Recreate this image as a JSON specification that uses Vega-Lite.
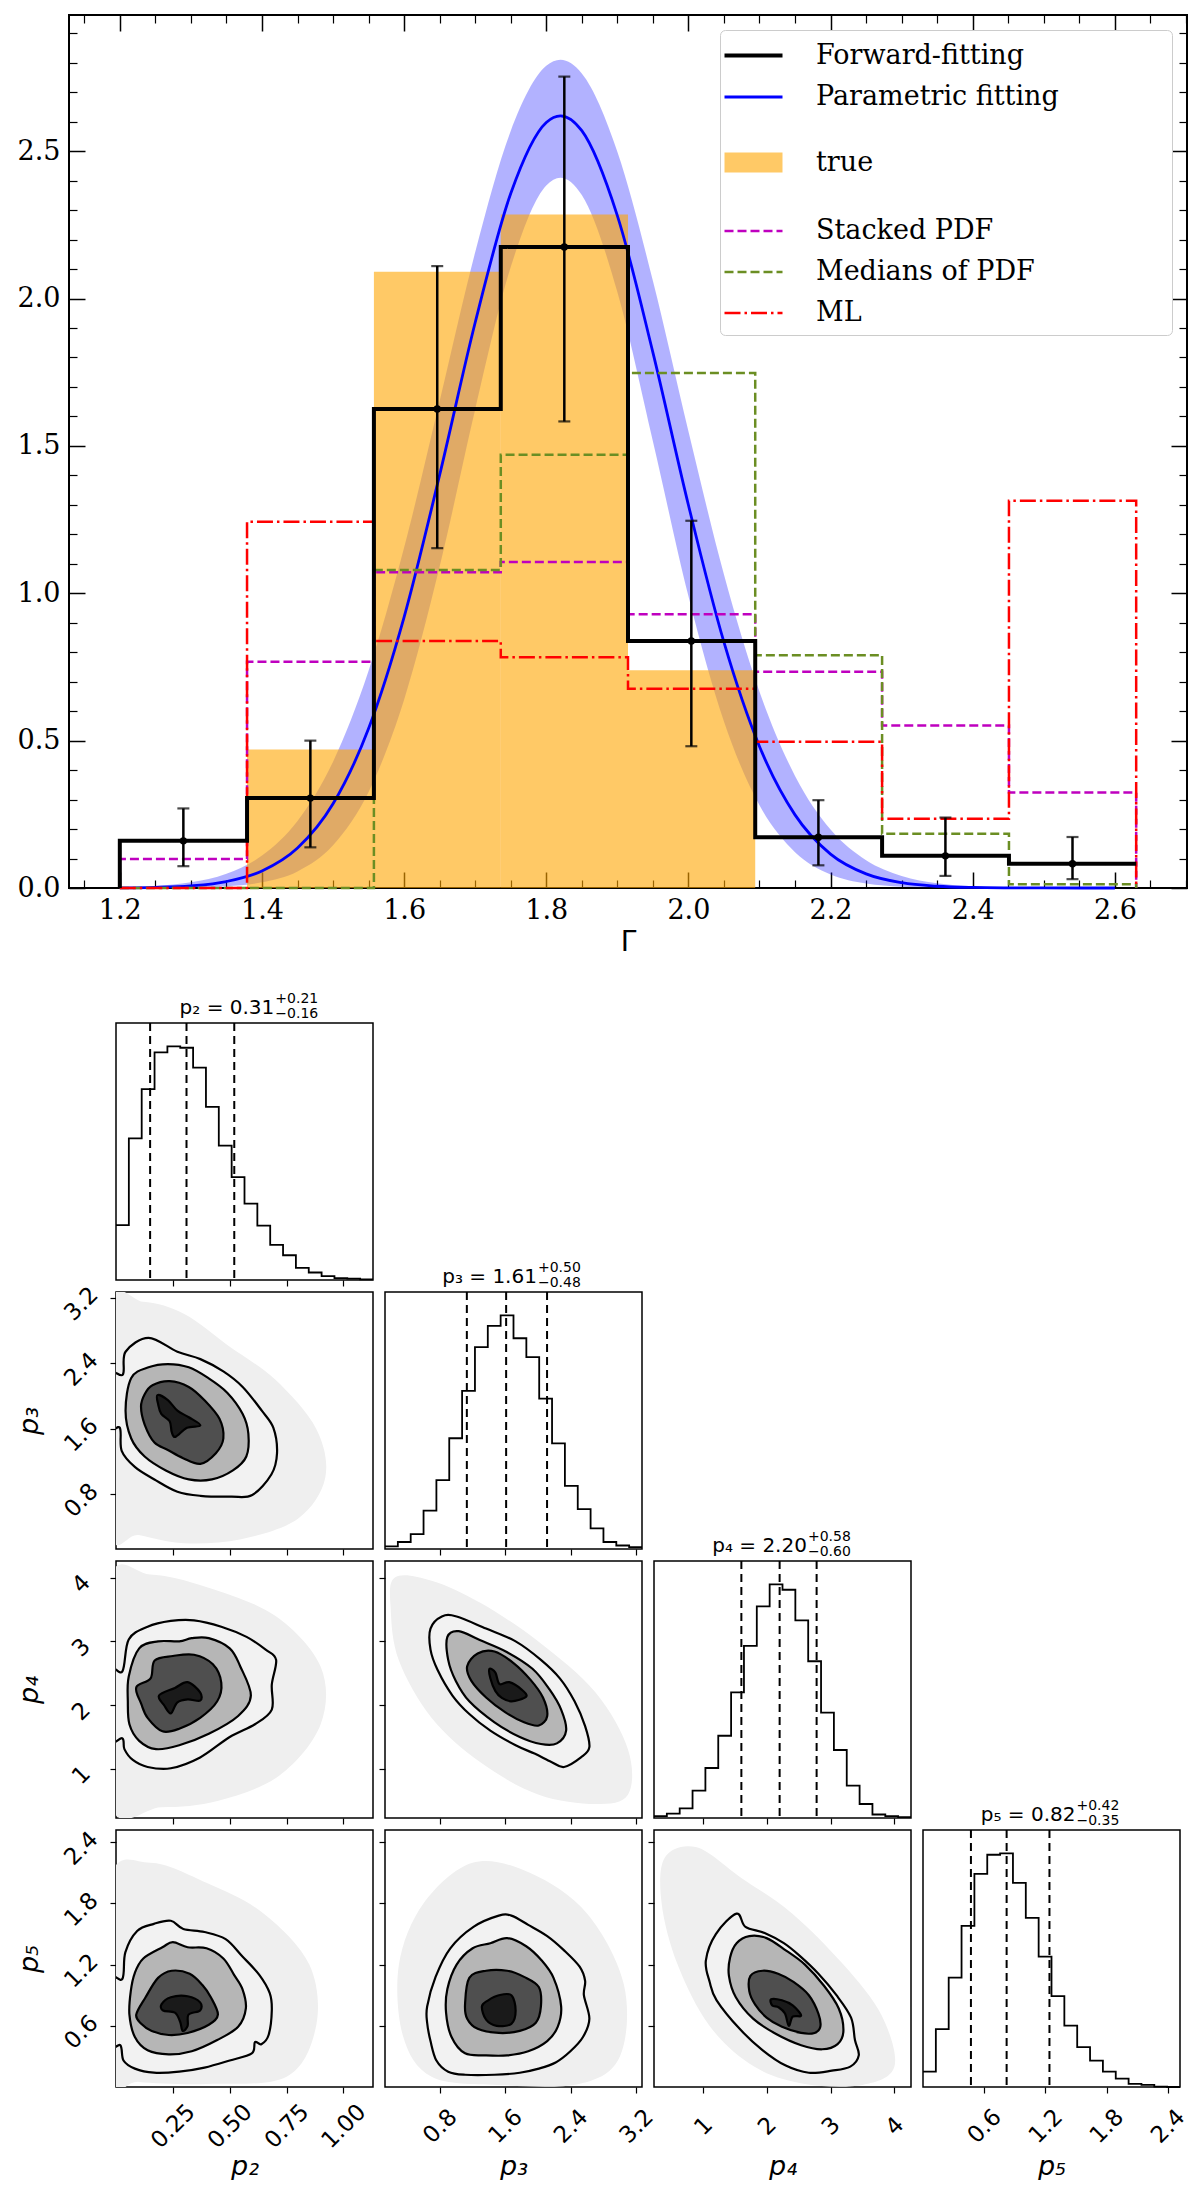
{
  "$schema": "https://vega.github.io/schema/vega-lite/v6.json",
  "background": "white",
  "padding": {"left": 14, "top": 13, "right": 5, "bottom": 0},
  "spacing": 34,
  "resolve": {
    "scale": {"strokeDash": "independent", "color": "independent", "strokeWidth": "independent"},
    "legend": {"strokeDash": "independent", "color": "independent", "strokeWidth": "independent"}
  },
  "config": {
    "view": {"stroke": "black", "strokeWidth": 1.5},
    "axis": {
      "grid": false, "domain": false, "tickColor": "black", "tickWidth": 1.2, "tickSize": 6,
      "labelFont": "DejaVu Sans", "labelFontSize": 23, "labelColor": "black",
      "labelAngle": -45, "labelAlign": "center", "labelBaseline": "middle",
      "labelOverlap": false, "labelFlush": false,
      "titleFont": "DejaVu Sans", "titleFontSize": 27, "titleFontWeight": "normal",
      "titleFontStyle": "italic", "titleColor": "black"
    },
    "axisX": {"labelPadding": 33, "titlePadding": 4, "minExtent": 62, "maxExtent": 62},
    "axisY": {"labelPadding": 29, "labelOffset": 6, "titlePadding": 16, "minExtent": 57, "maxExtent": 57},
    "legend": {
      "orient": "top-right", "offset": 15, "titleOrient": "right", "titleOpacity": 0,
      "titleFont": "DejaVu Sans Mono", "titleFontSize": 20, "titlePadding": 55,
      "labelFont": "DejaVu Serif", "labelFontSize": 27, "labelColor": "black", "labelLimit": 500, "labelOffset": 38,
      "symbolSize": 841, "symbolType": "M-2,0H2", "rowPadding": 12, "padding": 9,
      "fillColor": "white", "strokeColor": "#cccccc", "cornerRadius": 5
    }
  },
  "datasets": {
    "curve": [
      {"g": 1.2, "m": 0.0006, "lo": 0.0001, "hi": 0.0024},
      {"g": 1.25, "m": 0.0023, "lo": 0.0003, "hi": 0.0072},
      {"g": 1.3, "m": 0.0075, "lo": 0.0014, "hi": 0.0196},
      {"g": 1.35, "m": 0.022, "lo": 0.0056, "hi": 0.0486},
      {"g": 1.4, "m": 0.0576, "lo": 0.0191, "hi": 0.11},
      {"g": 1.45, "m": 0.1355, "lo": 0.0563, "hi": 0.2274},
      {"g": 1.5, "m": 0.2856, "lo": 0.1452, "hi": 0.4285},
      {"g": 1.55, "m": 0.5411, "lo": 0.3261, "hi": 0.7368},
      {"g": 1.6, "m": 0.9194, "lo": 0.6389, "hi": 1.1552},
      {"g": 1.65, "m": 1.4017, "lo": 1.0905, "hi": 1.6526},
      {"g": 1.7, "m": 1.9186, "lo": 1.6234, "hi": 2.157},
      {"g": 1.75, "m": 2.3564, "lo": 2.1068, "hi": 2.5681},
      {"g": 1.8, "m": 2.5974, "lo": 2.3837, "hi": 2.7894},
      {"g": 1.82, "m": 2.62, "lo": 2.41, "hi": 2.81},
      {"g": 1.85, "m": 2.5694, "lo": 2.3512, "hi": 2.7639},
      {"g": 1.9, "m": 2.2812, "lo": 2.022, "hi": 2.4984},
      {"g": 1.95, "m": 1.8175, "lo": 1.5159, "hi": 2.0603},
      {"g": 2.0, "m": 1.2995, "lo": 0.9908, "hi": 1.55},
      {"g": 2.05, "m": 0.8339, "lo": 0.5647, "hi": 1.0636},
      {"g": 2.1, "m": 0.4802, "lo": 0.2805, "hi": 0.666},
      {"g": 2.15, "m": 0.2481, "lo": 0.1215, "hi": 0.3803},
      {"g": 2.2, "m": 0.115, "lo": 0.0458, "hi": 0.1981},
      {"g": 2.25, "m": 0.0479, "lo": 0.0151, "hi": 0.0942},
      {"g": 2.3, "m": 0.0179, "lo": 0.0043, "hi": 0.0408},
      {"g": 2.35, "m": 0.006, "lo": 0.0011, "hi": 0.0162},
      {"g": 2.4, "m": 0.0018, "lo": 0.0002, "hi": 0.0058},
      {"g": 2.45, "m": 0.0005, "lo": 0, "hi": 0.0019},
      {"g": 2.5, "m": 0.0001, "lo": 0, "hi": 0.0005},
      {"g": 2.55, "m": 0, "lo": 0, "hi": 0.0001},
      {"g": 2.6, "m": 0, "lo": 0, "hi": 0}
    ],
    "truth": [
      {"a": 1.379, "b": 1.5575, "h": 0.47},
      {"a": 1.5575, "b": 1.736, "h": 2.091},
      {"a": 1.736, "b": 1.915, "h": 2.285},
      {"a": 1.915, "b": 2.094, "h": 0.739}
    ],
    "steps": [
      {"s": "ff", "x": 1.2, "y": 0}, {"s": "ff", "x": 1.2, "y": 0.16}, {"s": "ff", "x": 1.379, "y": 0.305},
      {"s": "ff", "x": 1.5575, "y": 1.625}, {"s": "ff", "x": 1.736, "y": 2.175}, {"s": "ff", "x": 1.915, "y": 0.838},
      {"s": "ff", "x": 2.094, "y": 0.172}, {"s": "ff", "x": 2.2725, "y": 0.109}, {"s": "ff", "x": 2.451, "y": 0.082},
      {"s": "ff", "x": 2.63, "y": 0.082},
      {"s": "sp", "x": 1.2, "y": 0}, {"s": "sp", "x": 1.2, "y": 0.098}, {"s": "sp", "x": 1.379, "y": 0.768},
      {"s": "sp", "x": 1.5575, "y": 1.071}, {"s": "sp", "x": 1.736, "y": 1.106}, {"s": "sp", "x": 1.915, "y": 0.929},
      {"s": "sp", "x": 2.094, "y": 0.734}, {"s": "sp", "x": 2.2725, "y": 0.551}, {"s": "sp", "x": 2.451, "y": 0.324},
      {"s": "sp", "x": 2.63, "y": 0.324}, {"s": "sp", "x": 2.63, "y": 0},
      {"s": "md", "x": 1.2, "y": 0}, {"s": "md", "x": 1.379, "y": 0}, {"s": "md", "x": 1.5575, "y": 1.079},
      {"s": "md", "x": 1.736, "y": 1.47}, {"s": "md", "x": 1.915, "y": 1.747}, {"s": "md", "x": 2.094, "y": 0.79},
      {"s": "md", "x": 2.2725, "y": 0.184}, {"s": "md", "x": 2.451, "y": 0.013}, {"s": "md", "x": 2.63, "y": 0.013},
      {"s": "md", "x": 2.63, "y": 0},
      {"s": "ml", "x": 1.2, "y": 0}, {"s": "ml", "x": 1.379, "y": 1.243}, {"s": "ml", "x": 1.5575, "y": 0.838},
      {"s": "ml", "x": 1.736, "y": 0.783}, {"s": "ml", "x": 1.915, "y": 0.676}, {"s": "ml", "x": 2.094, "y": 0.496},
      {"s": "ml", "x": 2.2725, "y": 0.235}, {"s": "ml", "x": 2.451, "y": 1.314}, {"s": "ml", "x": 2.63, "y": 1.314},
      {"s": "ml", "x": 2.63, "y": 0}
    ],
    "err": [
      {"c": 1.2894, "v": 0.16, "lo": 0.074, "hi": 0.27},
      {"c": 1.4681, "v": 0.305, "lo": 0.138, "hi": 0.5},
      {"c": 1.6466, "v": 1.625, "lo": 1.153, "hi": 2.11},
      {"c": 1.8254, "v": 2.175, "lo": 1.583, "hi": 2.753},
      {"c": 2.0041, "v": 0.838, "lo": 0.481, "hi": 1.246},
      {"c": 2.1829, "v": 0.172, "lo": 0.077, "hi": 0.298},
      {"c": 2.3616, "v": 0.109, "lo": 0.041, "hi": 0.239},
      {"c": 2.5404, "v": 0.082, "lo": 0.03, "hi": 0.173}
    ],
    "hist": [
      {"p": "p2", "x": 0, "h": 23.5}, {"p": "p2", "x": 0.0565, "h": 60.6}, {"p": "p2", "x": 0.113, "h": 81.7},
      {"p": "p2", "x": 0.1695, "h": 97.4}, {"p": "p2", "x": 0.226, "h": 100}, {"p": "p2", "x": 0.2825, "h": 99.4},
      {"p": "p2", "x": 0.339, "h": 90.9}, {"p": "p2", "x": 0.3955, "h": 74.1}, {"p": "p2", "x": 0.452, "h": 57.5},
      {"p": "p2", "x": 0.5085, "h": 44}, {"p": "p2", "x": 0.565, "h": 32.7}, {"p": "p2", "x": 0.6215, "h": 23.3},
      {"p": "p2", "x": 0.678, "h": 15}, {"p": "p2", "x": 0.7345, "h": 10.6}, {"p": "p2", "x": 0.791, "h": 5.2},
      {"p": "p2", "x": 0.8475, "h": 3.2}, {"p": "p2", "x": 0.904, "h": 1.7}, {"p": "p2", "x": 0.9605, "h": 0.8},
      {"p": "p2", "x": 1.017, "h": 0.6}, {"p": "p2", "x": 1.0735, "h": 0.3}, {"p": "p2", "x": 1.13, "h": 0.3},
      {"p": "p3", "x": 0.13, "h": 1.1}, {"p": "p3", "x": 0.287, "h": 3}, {"p": "p3", "x": 0.444, "h": 6.4},
      {"p": "p3", "x": 0.601, "h": 16.4}, {"p": "p3", "x": 0.758, "h": 29.5}, {"p": "p3", "x": 0.915, "h": 47.4},
      {"p": "p3", "x": 1.072, "h": 67.7}, {"p": "p3", "x": 1.229, "h": 86.4}, {"p": "p3", "x": 1.386, "h": 95.5},
      {"p": "p3", "x": 1.543, "h": 100}, {"p": "p3", "x": 1.7, "h": 90.2}, {"p": "p3", "x": 1.857, "h": 82.1},
      {"p": "p3", "x": 2.014, "h": 64.4}, {"p": "p3", "x": 2.171, "h": 45.2}, {"p": "p3", "x": 2.328, "h": 27},
      {"p": "p3", "x": 2.485, "h": 17.1}, {"p": "p3", "x": 2.642, "h": 8.8}, {"p": "p3", "x": 2.799, "h": 3},
      {"p": "p3", "x": 2.956, "h": 1.5}, {"p": "p3", "x": 3.113, "h": 0.8}, {"p": "p3", "x": 3.27, "h": 0.8},
      {"p": "p4", "x": 0.23, "h": 0.8}, {"p": "p4", "x": 0.4315, "h": 1.9}, {"p": "p4", "x": 0.633, "h": 4.1},
      {"p": "p4", "x": 0.8345, "h": 11.7}, {"p": "p4", "x": 1.036, "h": 21.4}, {"p": "p4", "x": 1.2375, "h": 35.2},
      {"p": "p4", "x": 1.439, "h": 53.8}, {"p": "p4", "x": 1.6405, "h": 73.7}, {"p": "p4", "x": 1.842, "h": 90.6},
      {"p": "p4", "x": 2.0435, "h": 100}, {"p": "p4", "x": 2.245, "h": 97.7}, {"p": "p4", "x": 2.4465, "h": 84.6},
      {"p": "p4", "x": 2.648, "h": 67.1}, {"p": "p4", "x": 2.8495, "h": 45.1}, {"p": "p4", "x": 3.051, "h": 29.1},
      {"p": "p4", "x": 3.2525, "h": 13.9}, {"p": "p4", "x": 3.454, "h": 6}, {"p": "p4", "x": 3.6555, "h": 1.5},
      {"p": "p4", "x": 3.857, "h": 0.8}, {"p": "p4", "x": 4.0585, "h": 0.4}, {"p": "p4", "x": 4.26, "h": 0.4},
      {"p": "p5", "x": 0, "h": 6.6}, {"p": "p5", "x": 0.126, "h": 24.8}, {"p": "p5", "x": 0.252, "h": 46.8},
      {"p": "p5", "x": 0.378, "h": 69}, {"p": "p5", "x": 0.504, "h": 91.2}, {"p": "p5", "x": 0.63, "h": 99.4},
      {"p": "p5", "x": 0.756, "h": 100}, {"p": "p5", "x": 0.882, "h": 87.4}, {"p": "p5", "x": 1.008, "h": 72.4},
      {"p": "p5", "x": 1.134, "h": 55.8}, {"p": "p5", "x": 1.26, "h": 38.9}, {"p": "p5", "x": 1.386, "h": 26.3},
      {"p": "p5", "x": 1.512, "h": 17.1}, {"p": "p5", "x": 1.638, "h": 11.3}, {"p": "p5", "x": 1.764, "h": 6.6},
      {"p": "p5", "x": 1.89, "h": 3.6}, {"p": "p5", "x": 2.016, "h": 1.3}, {"p": "p5", "x": 2.142, "h": 0.9},
      {"p": "p5", "x": 2.268, "h": 0.2}, {"p": "p5", "x": 2.394, "h": 0}, {"p": "p5", "x": 2.52, "h": 0}
    ],
    "quant": [
      {"p": "p2", "v": 0.15}, {"p": "p2", "v": 0.31}, {"p": "p2", "v": 0.52},
      {"p": "p3", "v": 1.13}, {"p": "p3", "v": 1.61}, {"p": "p3", "v": 2.11},
      {"p": "p4", "v": 1.6}, {"p": "p4", "v": 2.2}, {"p": "p4", "v": 2.78},
      {"p": "p5", "v": 0.47}, {"p": "p5", "v": 0.82}, {"p": "p5", "v": 1.24}
    ],
    "ct": [
      {"p":"a","l":0,"x":-0.03,"y":3.05},{"p":"a","l":0,"x":0.12,"y":3.15},{"p":"a","l":0,"x":0.3,"y":3.0},{"p":"a","l":0,"x":0.5,"y":2.6},{"p":"a","l":0,"x":0.7,"y":2.2},{"p":"a","l":0,"x":0.88,"y":1.6},{"p":"a","l":0,"x":0.92,"y":1.0},{"p":"a","l":0,"x":0.8,"y":0.5},{"p":"a","l":0,"x":0.55,"y":0.25},{"p":"a","l":0,"x":0.3,"y":0.2},{"p":"a","l":0,"x":0.1,"y":0.3},{"p":"a","l":0,"x":-0.03,"y":0.4},
      {"p":"a","l":1,"x":-0.03,"y":2.26},{"p":"a","l":1,"x":0.03,"y":2.26},{"p":"a","l":1,"x":0.042,"y":2.54},{"p":"a","l":1,"x":0.143,"y":2.71},{"p":"a","l":1,"x":0.27,"y":2.54},{"p":"a","l":1,"x":0.371,"y":2.45},{"p":"a","l":1,"x":0.472,"y":2.3},{"p":"a","l":1,"x":0.557,"y":2.11},{"p":"a","l":1,"x":0.641,"y":1.82},{"p":"a","l":1,"x":0.692,"y":1.61},{"p":"a","l":1,"x":0.708,"y":1.3},{"p":"a","l":1,"x":0.683,"y":1.04},{"p":"a","l":1,"x":0.599,"y":0.79},{"p":"a","l":1,"x":0.506,"y":0.77},{"p":"a","l":1,"x":0.371,"y":0.78},{"p":"a","l":1,"x":0.27,"y":0.83},{"p":"a","l":1,"x":0.169,"y":0.98},{"p":"a","l":1,"x":0.084,"y":1.13},{"p":"a","l":1,"x":0.025,"y":1.33},{"p":"a","l":1,"x":0.017,"y":1.61},{"p":"a","l":1,"x":-0.03,"y":1.62},
      {"p":"a","l":2,"x":0.067,"y":2.22},{"p":"a","l":2,"x":0.143,"y":2.35},{"p":"a","l":2,"x":0.228,"y":2.39},{"p":"a","l":2,"x":0.32,"y":2.35},{"p":"a","l":2,"x":0.405,"y":2.22},{"p":"a","l":2,"x":0.489,"y":2.04},{"p":"a","l":2,"x":0.557,"y":1.78},{"p":"a","l":2,"x":0.582,"y":1.54},{"p":"a","l":2,"x":0.573,"y":1.26},{"p":"a","l":2,"x":0.514,"y":1.09},{"p":"a","l":2,"x":0.422,"y":0.98},{"p":"a","l":2,"x":0.32,"y":0.98},{"p":"a","l":2,"x":0.219,"y":1.09},{"p":"a","l":2,"x":0.126,"y":1.26},{"p":"a","l":2,"x":0.067,"y":1.48},{"p":"a","l":2,"x":0.042,"y":1.82},
      {"p":"a","l":3,"x":0.126,"y":2.02},{"p":"a","l":3,"x":0.16,"y":2.13},{"p":"a","l":3,"x":0.236,"y":2.18},{"p":"a","l":3,"x":0.32,"y":2.11},{"p":"a","l":3,"x":0.388,"y":1.95},{"p":"a","l":3,"x":0.455,"y":1.72},{"p":"a","l":3,"x":0.472,"y":1.48},{"p":"a","l":3,"x":0.439,"y":1.3},{"p":"a","l":3,"x":0.371,"y":1.17},{"p":"a","l":3,"x":0.295,"y":1.24},{"p":"a","l":3,"x":0.228,"y":1.34},{"p":"a","l":3,"x":0.169,"y":1.43},{"p":"a","l":3,"x":0.126,"y":1.65},{"p":"a","l":3,"x":0.11,"y":1.87},
      {"p":"a","l":4,"x":0.182,"y":2.01},{"p":"a","l":4,"x":0.228,"y":1.95},{"p":"a","l":4,"x":0.27,"y":1.82},{"p":"a","l":4,"x":0.32,"y":1.74},{"p":"a","l":4,"x":0.371,"y":1.64},{"p":"a","l":4,"x":0.312,"y":1.61},{"p":"a","l":4,"x":0.261,"y":1.5},{"p":"a","l":4,"x":0.245,"y":1.56},{"p":"a","l":4,"x":0.236,"y":1.69},{"p":"a","l":4,"x":0.199,"y":1.78},{"p":"a","l":4,"x":0.186,"y":1.89},
      {"p":"b","l":0,"x":-0.03,"y":3.9},{"p":"b","l":0,"x":0.15,"y":4.05},{"p":"b","l":0,"x":0.4,"y":3.85},{"p":"b","l":0,"x":0.7,"y":3.4},{"p":"b","l":0,"x":0.9,"y":2.6},{"p":"b","l":0,"x":0.9,"y":1.7},{"p":"b","l":0,"x":0.72,"y":0.9},{"p":"b","l":0,"x":0.45,"y":0.5},{"p":"b","l":0,"x":0.2,"y":0.4},{"p":"b","l":0,"x":-0.03,"y":0.5},
      {"p":"b","l":1,"x":-0.03,"y":2.53},{"p":"b","l":1,"x":0.028,"y":2.53},{"p":"b","l":1,"x":0.056,"y":3.03},{"p":"b","l":1,"x":0.139,"y":3.23},{"p":"b","l":1,"x":0.241,"y":3.32},{"p":"b","l":1,"x":0.343,"y":3.33},{"p":"b","l":1,"x":0.463,"y":3.23},{"p":"b","l":1,"x":0.574,"y":3.07},{"p":"b","l":1,"x":0.658,"y":2.87},{"p":"b","l":1,"x":0.704,"y":2.71},{"p":"b","l":1,"x":0.685,"y":2.32},{"p":"b","l":1,"x":0.685,"y":1.93},{"p":"b","l":1,"x":0.611,"y":1.7},{"p":"b","l":1,"x":0.5,"y":1.5},{"p":"b","l":1,"x":0.37,"y":1.18},{"p":"b","l":1,"x":0.241,"y":1.01},{"p":"b","l":1,"x":0.139,"y":1.03},{"p":"b","l":1,"x":0.074,"y":1.14},{"p":"b","l":1,"x":0.037,"y":1.31},{"p":"b","l":1,"x":0.028,"y":1.48},{"p":"b","l":1,"x":-0.03,"y":1.48},
      {"p":"b","l":2,"x":0.056,"y":2.45},{"p":"b","l":2,"x":0.102,"y":2.89},{"p":"b","l":2,"x":0.185,"y":3.0},{"p":"b","l":2,"x":0.278,"y":3.0},{"p":"b","l":2,"x":0.333,"y":3.05},{"p":"b","l":2,"x":0.408,"y":3.05},{"p":"b","l":2,"x":0.5,"y":2.89},{"p":"b","l":2,"x":0.546,"y":2.61},{"p":"b","l":2,"x":0.593,"y":2.15},{"p":"b","l":2,"x":0.537,"y":1.83},{"p":"b","l":2,"x":0.408,"y":1.55},{"p":"b","l":2,"x":0.278,"y":1.37},{"p":"b","l":2,"x":0.176,"y":1.31},{"p":"b","l":2,"x":0.102,"y":1.44},{"p":"b","l":2,"x":0.059,"y":1.7},{"p":"b","l":2,"x":0.052,"y":2.06},
      {"p":"b","l":3,"x":0.089,"y":2.28},{"p":"b","l":3,"x":0.152,"y":2.42},{"p":"b","l":3,"x":0.17,"y":2.7},{"p":"b","l":3,"x":0.25,"y":2.77},{"p":"b","l":3,"x":0.343,"y":2.79},{"p":"b","l":3,"x":0.426,"y":2.64},{"p":"b","l":3,"x":0.463,"y":2.35},{"p":"b","l":3,"x":0.445,"y":2.06},{"p":"b","l":3,"x":0.37,"y":1.8},{"p":"b","l":3,"x":0.278,"y":1.63},{"p":"b","l":3,"x":0.204,"y":1.59},{"p":"b","l":3,"x":0.139,"y":1.8},{"p":"b","l":3,"x":0.111,"y":2.02},
      {"p":"b","l":4,"x":0.189,"y":2.15},{"p":"b","l":4,"x":0.259,"y":2.27},{"p":"b","l":4,"x":0.315,"y":2.36},{"p":"b","l":4,"x":0.37,"y":2.2},{"p":"b","l":4,"x":0.37,"y":2.07},{"p":"b","l":4,"x":0.315,"y":2.09},{"p":"b","l":4,"x":0.269,"y":2.04},{"p":"b","l":4,"x":0.241,"y":1.87},{"p":"b","l":4,"x":0.213,"y":1.99},
      {"p":"c","l":0,"x":0.25,"y":4.0},{"p":"c","l":0,"x":0.7,"y":3.95},{"p":"c","l":0,"x":1.3,"y":3.6},{"p":"c","l":0,"x":2.0,"y":3.0},{"p":"c","l":0,"x":2.7,"y":2.2},{"p":"c","l":0,"x":3.1,"y":1.3},{"p":"c","l":0,"x":3.1,"y":0.6},{"p":"c","l":0,"x":2.7,"y":0.45},{"p":"c","l":0,"x":2.0,"y":0.6},{"p":"c","l":0,"x":1.3,"y":1.1},{"p":"c","l":0,"x":0.7,"y":1.8},{"p":"c","l":0,"x":0.3,"y":2.7},{"p":"c","l":0,"x":0.2,"y":3.5},
      {"p":"c","l":1,"x":0.686,"y":3.2},{"p":"c","l":1,"x":0.825,"y":3.39},{"p":"c","l":1,"x":1.005,"y":3.39},{"p":"c","l":1,"x":1.365,"y":3.2},{"p":"c","l":1,"x":1.726,"y":3.0},{"p":"c","l":1,"x":2.035,"y":2.71},{"p":"c","l":1,"x":2.266,"y":2.42},{"p":"c","l":1,"x":2.446,"y":2.06},{"p":"c","l":1,"x":2.575,"y":1.67},{"p":"c","l":1,"x":2.627,"y":1.34},{"p":"c","l":1,"x":2.524,"y":1.18},{"p":"c","l":1,"x":2.318,"y":1.03},{"p":"c","l":1,"x":2.163,"y":1.11},{"p":"c","l":1,"x":1.957,"y":1.24},{"p":"c","l":1,"x":1.726,"y":1.37},{"p":"c","l":1,"x":1.417,"y":1.6},{"p":"c","l":1,"x":1.16,"y":1.86},{"p":"c","l":1,"x":0.954,"y":2.15},{"p":"c","l":1,"x":0.773,"y":2.55},{"p":"c","l":1,"x":0.686,"y":2.87},
      {"p":"c","l":2,"x":0.892,"y":3.07},{"p":"c","l":2,"x":1.031,"y":3.16},{"p":"c","l":2,"x":1.288,"y":3.02},{"p":"c","l":2,"x":1.623,"y":2.83},{"p":"c","l":2,"x":1.932,"y":2.57},{"p":"c","l":2,"x":2.138,"y":2.25},{"p":"c","l":2,"x":2.282,"y":1.93},{"p":"c","l":2,"x":2.343,"y":1.6},{"p":"c","l":2,"x":2.23,"y":1.4},{"p":"c","l":2,"x":2.035,"y":1.39},{"p":"c","l":2,"x":1.777,"y":1.5},{"p":"c","l":2,"x":1.468,"y":1.73},{"p":"c","l":2,"x":1.16,"y":2.06},{"p":"c","l":2,"x":0.995,"y":2.38},{"p":"c","l":2,"x":0.902,"y":2.71},
      {"p":"c","l":3,"x":1.134,"y":2.61},{"p":"c","l":3,"x":1.262,"y":2.81},{"p":"c","l":3,"x":1.468,"y":2.84},{"p":"c","l":3,"x":1.7,"y":2.66},{"p":"c","l":3,"x":1.906,"y":2.4},{"p":"c","l":3,"x":2.06,"y":2.12},{"p":"c","l":3,"x":2.112,"y":1.83},{"p":"c","l":3,"x":2.009,"y":1.68},{"p":"c","l":3,"x":1.829,"y":1.73},{"p":"c","l":3,"x":1.597,"y":1.89},{"p":"c","l":3,"x":1.365,"y":2.12},{"p":"c","l":3,"x":1.185,"y":2.38},
      {"p":"c","l":4,"x":1.407,"y":2.57},{"p":"c","l":4,"x":1.479,"y":2.51},{"p":"c","l":4,"x":1.53,"y":2.33},{"p":"c","l":4,"x":1.649,"y":2.36},{"p":"c","l":4,"x":1.803,"y":2.24},{"p":"c","l":4,"x":1.854,"y":2.13},{"p":"c","l":4,"x":1.674,"y":2.06},{"p":"c","l":4,"x":1.561,"y":2.11},{"p":"c","l":4,"x":1.479,"y":2.22},{"p":"c","l":4,"x":1.417,"y":2.42},
      {"p":"d","l":0,"x":-0.03,"y":2.0},{"p":"d","l":0,"x":0.15,"y":2.2},{"p":"d","l":0,"x":0.4,"y":2.0},{"p":"d","l":0,"x":0.65,"y":1.7},{"p":"d","l":0,"x":0.85,"y":1.2},{"p":"d","l":0,"x":0.88,"y":0.6},{"p":"d","l":0,"x":0.75,"y":0.1},{"p":"d","l":0,"x":0.4,"y":0.03},{"p":"d","l":0,"x":0.1,"y":0.05},{"p":"d","l":0,"x":-0.03,"y":0.1},
      {"p":"d","l":1,"x":-0.03,"y":1.05},{"p":"d","l":1,"x":0.028,"y":1.06},{"p":"d","l":1,"x":0.041,"y":1.32},{"p":"d","l":1,"x":0.093,"y":1.53},{"p":"d","l":1,"x":0.167,"y":1.6},{"p":"d","l":1,"x":0.241,"y":1.63},{"p":"d","l":1,"x":0.296,"y":1.55},{"p":"d","l":1,"x":0.389,"y":1.52},{"p":"d","l":1,"x":0.482,"y":1.45},{"p":"d","l":1,"x":0.556,"y":1.28},{"p":"d","l":1,"x":0.63,"y":1.1},{"p":"d","l":1,"x":0.676,"y":0.92},{"p":"d","l":1,"x":0.685,"y":0.75},{"p":"d","l":1,"x":0.671,"y":0.51},{"p":"d","l":1,"x":0.639,"y":0.42},{"p":"d","l":1,"x":0.611,"y":0.44},{"p":"d","l":1,"x":0.597,"y":0.33},{"p":"d","l":1,"x":0.5,"y":0.26},{"p":"d","l":1,"x":0.389,"y":0.19},{"p":"d","l":1,"x":0.278,"y":0.15},{"p":"d","l":1,"x":0.167,"y":0.14},{"p":"d","l":1,"x":0.083,"y":0.18},{"p":"d","l":1,"x":0.033,"y":0.26},{"p":"d","l":1,"x":0.019,"y":0.41},{"p":"d","l":1,"x":-0.03,"y":0.42},
      {"p":"d","l":2,"x":0.083,"y":1.12},{"p":"d","l":2,"x":0.12,"y":1.26},{"p":"d","l":2,"x":0.204,"y":1.37},{"p":"d","l":2,"x":0.25,"y":1.42},{"p":"d","l":2,"x":0.315,"y":1.37},{"p":"d","l":2,"x":0.398,"y":1.36},{"p":"d","l":2,"x":0.472,"y":1.26},{"p":"d","l":2,"x":0.519,"y":1.1},{"p":"d","l":2,"x":0.556,"y":0.96},{"p":"d","l":2,"x":0.571,"y":0.77},{"p":"d","l":2,"x":0.537,"y":0.59},{"p":"d","l":2,"x":0.445,"y":0.46},{"p":"d","l":2,"x":0.333,"y":0.35},{"p":"d","l":2,"x":0.232,"y":0.32},{"p":"d","l":2,"x":0.139,"y":0.36},{"p":"d","l":2,"x":0.083,"y":0.49},{"p":"d","l":2,"x":0.059,"y":0.71},{"p":"d","l":2,"x":0.065,"y":0.94},
      {"p":"d","l":3,"x":0.089,"y":0.71},{"p":"d","l":3,"x":0.13,"y":0.88},{"p":"d","l":3,"x":0.185,"y":1.07},{"p":"d","l":3,"x":0.245,"y":1.14},{"p":"d","l":3,"x":0.324,"y":1.11},{"p":"d","l":3,"x":0.38,"y":1.0},{"p":"d","l":3,"x":0.417,"y":0.88},{"p":"d","l":3,"x":0.448,"y":0.71},{"p":"d","l":3,"x":0.408,"y":0.61},{"p":"d","l":3,"x":0.315,"y":0.53},{"p":"d","l":3,"x":0.232,"y":0.51},{"p":"d","l":3,"x":0.157,"y":0.55},{"p":"d","l":3,"x":0.111,"y":0.62},
      {"p":"d","l":4,"x":0.2,"y":0.81},{"p":"d","l":4,"x":0.241,"y":0.88},{"p":"d","l":4,"x":0.315,"y":0.89},{"p":"d","l":4,"x":0.37,"y":0.83},{"p":"d","l":4,"x":0.37,"y":0.75},{"p":"d","l":4,"x":0.319,"y":0.71},{"p":"d","l":4,"x":0.315,"y":0.6},{"p":"d","l":4,"x":0.293,"y":0.55},{"p":"d","l":4,"x":0.282,"y":0.64},{"p":"d","l":4,"x":0.259,"y":0.73},{"p":"d","l":4,"x":0.207,"y":0.75},
      {"p":"e","l":0,"x":0.3,"y":1.2},{"p":"e","l":0,"x":0.6,"y":1.8},{"p":"e","l":0,"x":1.2,"y":2.2},{"p":"e","l":0,"x":1.9,"y":2.1},{"p":"e","l":0,"x":2.6,"y":1.7},{"p":"e","l":0,"x":3.05,"y":1.0},{"p":"e","l":0,"x":3.0,"y":0.3},{"p":"e","l":0,"x":2.5,"y":0.03},{"p":"e","l":0,"x":1.5,"y":0.02},{"p":"e","l":0,"x":0.7,"y":0.1},{"p":"e","l":0,"x":0.35,"y":0.5},
      {"p":"e","l":1,"x":0.645,"y":0.79},{"p":"e","l":1,"x":0.748,"y":1.08},{"p":"e","l":1,"x":0.928,"y":1.36},{"p":"e","l":1,"x":1.211,"y":1.57},{"p":"e","l":1,"x":1.52,"y":1.68},{"p":"e","l":1,"x":1.674,"y":1.68},{"p":"e","l":1,"x":1.88,"y":1.59},{"p":"e","l":1,"x":2.112,"y":1.48},{"p":"e","l":1,"x":2.318,"y":1.34},{"p":"e","l":1,"x":2.508,"y":1.18},{"p":"e","l":1,"x":2.575,"y":1.04},{"p":"e","l":1,"x":2.56,"y":0.9},{"p":"e","l":1,"x":2.627,"y":0.67},{"p":"e","l":1,"x":2.549,"y":0.49},{"p":"e","l":1,"x":2.395,"y":0.35},{"p":"e","l":1,"x":2.215,"y":0.24},{"p":"e","l":1,"x":2.009,"y":0.18},{"p":"e","l":1,"x":1.777,"y":0.14},{"p":"e","l":1,"x":1.468,"y":0.12},{"p":"e","l":1,"x":1.108,"y":0.12},{"p":"e","l":1,"x":0.902,"y":0.15},{"p":"e","l":1,"x":0.758,"y":0.26},{"p":"e","l":1,"x":0.686,"y":0.45},{"p":"e","l":1,"x":0.645,"y":0.63},
      {"p":"e","l":2,"x":0.892,"y":0.96},{"p":"e","l":2,"x":1.005,"y":1.2},{"p":"e","l":2,"x":1.201,"y":1.36},{"p":"e","l":2,"x":1.417,"y":1.41},{"p":"e","l":2,"x":1.623,"y":1.46},{"p":"e","l":2,"x":1.855,"y":1.38},{"p":"e","l":2,"x":2.045,"y":1.24},{"p":"e","l":2,"x":2.189,"y":1.07},{"p":"e","l":2,"x":2.282,"y":0.79},{"p":"e","l":2,"x":2.24,"y":0.59},{"p":"e","l":2,"x":2.112,"y":0.45},{"p":"e","l":2,"x":1.88,"y":0.35},{"p":"e","l":2,"x":1.623,"y":0.31},{"p":"e","l":2,"x":1.365,"y":0.31},{"p":"e","l":2,"x":1.108,"y":0.33},{"p":"e","l":2,"x":0.943,"y":0.49},{"p":"e","l":2,"x":0.876,"y":0.73},
      {"p":"e","l":3,"x":1.108,"y":0.81},{"p":"e","l":3,"x":1.16,"y":1.07},{"p":"e","l":3,"x":1.365,"y":1.14},{"p":"e","l":3,"x":1.623,"y":1.14},{"p":"e","l":3,"x":1.829,"y":1.08},{"p":"e","l":3,"x":2.009,"y":0.98},{"p":"e","l":3,"x":2.035,"y":0.79},{"p":"e","l":3,"x":1.973,"y":0.63},{"p":"e","l":3,"x":1.777,"y":0.55},{"p":"e","l":3,"x":1.52,"y":0.53},{"p":"e","l":3,"x":1.262,"y":0.57},{"p":"e","l":3,"x":1.134,"y":0.67},
      {"p":"e","l":4,"x":1.314,"y":0.79},{"p":"e","l":4,"x":1.391,"y":0.85},{"p":"e","l":4,"x":1.52,"y":0.9},{"p":"e","l":4,"x":1.674,"y":0.9},{"p":"e","l":4,"x":1.726,"y":0.75},{"p":"e","l":4,"x":1.674,"y":0.62},{"p":"e","l":4,"x":1.494,"y":0.6},{"p":"e","l":4,"x":1.365,"y":0.66},
      {"p":"f","l":0,"x":0.4,"y":2.25},{"p":"f","l":0,"x":0.9,"y":2.35},{"p":"f","l":0,"x":1.6,"y":2.05},{"p":"f","l":0,"x":2.4,"y":1.7},{"p":"f","l":0,"x":3.2,"y":1.2},{"p":"f","l":0,"x":3.8,"y":0.7},{"p":"f","l":0,"x":4.0,"y":0.2},{"p":"f","l":0,"x":3.5,"y":0.02},{"p":"f","l":0,"x":2.6,"y":0.03},{"p":"f","l":0,"x":1.8,"y":0.2},{"p":"f","l":0,"x":1.1,"y":0.6},{"p":"f","l":0,"x":0.6,"y":1.2},{"p":"f","l":0,"x":0.35,"y":1.8},
      {"p":"f","l":1,"x":1.043,"y":1.24},{"p":"f","l":1,"x":1.2,"y":1.5},{"p":"f","l":1,"x":1.525,"y":1.7},{"p":"f","l":1,"x":1.664,"y":1.57},{"p":"f","l":1,"x":1.965,"y":1.51},{"p":"f","l":1,"x":2.266,"y":1.41},{"p":"f","l":1,"x":2.507,"y":1.29},{"p":"f","l":1,"x":2.808,"y":1.11},{"p":"f","l":1,"x":3.091,"y":0.9},{"p":"f","l":1,"x":3.32,"y":0.68},{"p":"f","l":1,"x":3.381,"y":0.46},{"p":"f","l":1,"x":3.441,"y":0.31},{"p":"f","l":1,"x":3.308,"y":0.2},{"p":"f","l":1,"x":3.019,"y":0.16},{"p":"f","l":1,"x":2.658,"y":0.14},{"p":"f","l":1,"x":2.296,"y":0.21},{"p":"f","l":1,"x":1.935,"y":0.36},{"p":"f","l":1,"x":1.573,"y":0.57},{"p":"f","l":1,"x":1.212,"y":0.85},{"p":"f","l":1,"x":1.103,"y":1.03},
      {"p":"f","l":2,"x":1.423,"y":1.27},{"p":"f","l":2,"x":1.525,"y":1.41},{"p":"f","l":2,"x":1.724,"y":1.48},{"p":"f","l":2,"x":1.995,"y":1.46},{"p":"f","l":2,"x":2.296,"y":1.34},{"p":"f","l":2,"x":2.597,"y":1.2},{"p":"f","l":2,"x":2.899,"y":0.99},{"p":"f","l":2,"x":3.127,"y":0.77},{"p":"f","l":2,"x":3.2,"y":0.55},{"p":"f","l":2,"x":3.109,"y":0.42},{"p":"f","l":2,"x":2.868,"y":0.37},{"p":"f","l":2,"x":2.537,"y":0.41},{"p":"f","l":2,"x":2.145,"y":0.52},{"p":"f","l":2,"x":1.784,"y":0.67},{"p":"f","l":2,"x":1.513,"y":0.88},{"p":"f","l":2,"x":1.405,"y":1.09},
      {"p":"f","l":3,"x":1.724,"y":0.94},{"p":"f","l":3,"x":1.742,"y":1.09},{"p":"f","l":3,"x":1.935,"y":1.14},{"p":"f","l":3,"x":2.176,"y":1.11},{"p":"f","l":3,"x":2.417,"y":1.03},{"p":"f","l":3,"x":2.658,"y":0.9},{"p":"f","l":3,"x":2.808,"y":0.72},{"p":"f","l":3,"x":2.838,"y":0.59},{"p":"f","l":3,"x":2.748,"y":0.53},{"p":"f","l":3,"x":2.537,"y":0.53},{"p":"f","l":3,"x":2.236,"y":0.59},{"p":"f","l":3,"x":1.995,"y":0.68},{"p":"f","l":3,"x":1.814,"y":0.81},
      {"p":"f","l":4,"x":2.067,"y":0.86},{"p":"f","l":4,"x":2.236,"y":0.85},{"p":"f","l":4,"x":2.405,"y":0.8},{"p":"f","l":4,"x":2.537,"y":0.7},{"p":"f","l":4,"x":2.405,"y":0.69},{"p":"f","l":4,"x":2.344,"y":0.6},{"p":"f","l":4,"x":2.284,"y":0.72},{"p":"f","l":4,"x":2.188,"y":0.78},{"p":"f","l":4,"x":2.085,"y":0.8}
    ]
  },
  "vconcat": [
    {
      "width": 1118,
      "height": 873,
      "view": {"stroke": "black", "strokeWidth": 2},
      "resolve": {"axis": {"x": "independent", "y": "independent"}},
      "layer": [
        {
          "data": {"name": "curve"},
          "mark": {"type": "area", "color": "blue", "opacity": 0.3, "interpolate": "monotone"},
          "encoding": {
            "x": {"field": "g", "type": "quantitative", "scale": {"domain": [1.1285, 2.7015], "nice": false, "zero": false},
              "axis": {"orient": "bottom", "values": [1.2, 1.4, 1.6, 1.8, 2.0, 2.2, 2.4, 2.6], "format": ".1f", "ticks": false,
                "labelFont": "DejaVu Serif", "labelFontSize": 27, "labelAngle": 0, "labelAlign": "center", "labelBaseline": "top",
                "labelPadding": 9, "title": "Γ", "titleFont": "DejaVu Sans", "titleFontSize": 28, "titleFontStyle": "normal",
                "titlePadding": 5, "minExtent": 0, "maxExtent": 300}},
            "y": {"field": "lo", "type": "quantitative", "scale": {"domain": [0, 2.962], "nice": false, "zero": false},
              "axis": {"orient": "left", "values": [0, 0.5, 1, 1.5, 2, 2.5], "format": ".1f", "ticks": false,
                "labelFont": "DejaVu Serif", "labelFontSize": 27, "labelAngle": 0, "labelAlign": "right", "labelBaseline": "middle",
                "labelPadding": 9, "labelOffset": 0, "title": null, "minExtent": 0, "maxExtent": 300}},
            "y2": {"field": "hi"}
          }
        },
        {
          "data": {"name": "truth"},
          "mark": {"type": "rect", "color": "#ffa500", "opacity": 0.6},
          "encoding": {
            "x": {"field": "a", "type": "quantitative", "scale": {"domain": [1.1285, 2.7015], "nice": false, "zero": false},
              "axis": {"orient": "bottom", "values": [1.2, 1.4, 1.6, 1.8, 2.0, 2.2, 2.4, 2.6], "labels": false, "tickSize": -16, "tickWidth": 1.5, "title": null, "minExtent": 0, "maxExtent": 0}},
            "x2": {"field": "b"},
            "y": {"field": "h", "type": "quantitative", "scale": {"domain": [0, 2.962], "nice": false, "zero": false},
              "axis": {"orient": "left", "values": [0, 0.5, 1, 1.5, 2, 2.5], "labels": false, "tickSize": -16, "tickWidth": 1.5, "title": null, "minExtent": 0, "maxExtent": 0}},
            "y2": {"datum": 0}
          }
        },
        {
          "data": {"name": "curve"},
          "mark": {"type": "line", "color": "blue", "strokeWidth": 2.8, "interpolate": "monotone"},
          "encoding": {
            "x": {"field": "g", "type": "quantitative", "scale": {"domain": [1.1285, 2.7015], "nice": false, "zero": false},
              "axis": {"orient": "bottom", "values": [1.15, 1.25, 1.3, 1.35, 1.45, 1.5, 1.55, 1.65, 1.7, 1.75, 1.85, 1.9, 1.95, 2.05, 2.1, 2.15, 2.25, 2.3, 2.35, 2.45, 2.5, 2.55, 2.65, 2.7], "labels": false, "tickSize": -8, "tickWidth": 1.2, "title": null, "minExtent": 0, "maxExtent": 0}},
            "y": {"field": "m", "type": "quantitative", "scale": {"domain": [0, 2.962], "nice": false, "zero": false},
              "axis": {"orient": "left", "values": [0.1, 0.2, 0.3, 0.4, 0.6, 0.7, 0.8, 0.9, 1.1, 1.2, 1.3, 1.4, 1.6, 1.7, 1.8, 1.9, 2.1, 2.2, 2.3, 2.4, 2.6, 2.7, 2.8, 2.9], "labels": false, "tickSize": -8, "tickWidth": 1.2, "title": null, "minExtent": 0, "maxExtent": 0}}
          }
        },
        {
          "data": {"name": "steps"},
          "transform": [{"filter": "datum.s === 'sp'"}],
          "mark": {"type": "line", "interpolate": "step-after", "color": "#bf00bf", "strokeWidth": 2.5, "strokeDash": [9, 4]},
          "encoding": {
            "x": {"field": "x", "type": "quantitative", "scale": {"domain": [1.1285, 2.7015], "nice": false, "zero": false},
              "axis": {"orient": "top", "values": [1.2, 1.4, 1.6, 1.8, 2.0, 2.2, 2.4, 2.6], "labels": false, "tickSize": -16, "tickWidth": 1.5, "title": null, "minExtent": 0, "maxExtent": 0}},
            "y": {"field": "y", "type": "quantitative", "scale": {"domain": [0, 2.962], "nice": false, "zero": false},
              "axis": {"orient": "right", "values": [0, 0.5, 1, 1.5, 2, 2.5], "labels": false, "tickSize": -16, "tickWidth": 1.5, "title": null, "minExtent": 0, "maxExtent": 0}},
            "order": {"value": null}
          }
        },
        {
          "data": {"name": "steps"},
          "transform": [{"filter": "datum.s === 'md'"}],
          "mark": {"type": "line", "interpolate": "step-after", "color": "#6b8e23", "strokeWidth": 2.5, "strokeDash": [9, 4]},
          "encoding": {
            "x": {"field": "x", "type": "quantitative", "scale": {"domain": [1.1285, 2.7015], "nice": false, "zero": false},
              "axis": {"orient": "top", "values": [1.15, 1.25, 1.3, 1.35, 1.45, 1.5, 1.55, 1.65, 1.7, 1.75, 1.85, 1.9, 1.95, 2.05, 2.1, 2.15, 2.25, 2.3, 2.35, 2.45, 2.5, 2.55, 2.65, 2.7], "labels": false, "tickSize": -8, "tickWidth": 1.2, "title": null, "minExtent": 0, "maxExtent": 0}},
            "y": {"field": "y", "type": "quantitative", "scale": {"domain": [0, 2.962], "nice": false, "zero": false},
              "axis": {"orient": "right", "values": [0.1, 0.2, 0.3, 0.4, 0.6, 0.7, 0.8, 0.9, 1.1, 1.2, 1.3, 1.4, 1.6, 1.7, 1.8, 1.9, 2.1, 2.2, 2.3, 2.4, 2.6, 2.7, 2.8, 2.9], "labels": false, "tickSize": -8, "tickWidth": 1.2, "title": null, "minExtent": 0, "maxExtent": 0}},
            "order": {"value": null}
          }
        },
        {
          "data": {"name": "steps"},
          "transform": [{"filter": "datum.s === 'ml'"}],
          "mark": {"type": "line", "interpolate": "step-after", "color": "red", "strokeWidth": 2.5, "strokeDash": [16, 4, 2.5, 4]},
          "encoding": {
            "x": {"field": "x", "type": "quantitative", "scale": {"domain": [1.1285, 2.7015], "nice": false, "zero": false}, "axis": null},
            "y": {"field": "y", "type": "quantitative", "scale": {"domain": [0, 2.962], "nice": false, "zero": false}, "axis": null},
            "order": {"value": null}
          }
        },
        {
          "data": {"name": "steps"},
          "transform": [{"filter": "datum.s === 'ff'"}],
          "mark": {"type": "line", "interpolate": "step-after"},
          "encoding": {
            "x": {"field": "x", "type": "quantitative", "scale": {"domain": [1.1285, 2.7015], "nice": false, "zero": false}, "axis": null},
            "y": {"field": "y", "type": "quantitative", "scale": {"domain": [0, 2.962], "nice": false, "zero": false}, "axis": null},
            "order": {"value": null},
            "strokeDash": {
              "datum": "Forward-fitting", "type": "nominal",
              "scale": {"domain": ["Forward-fitting", "Parametric fitting", "true", "Stacked PDF", "Medians of PDF", "ML"],
                        "range": [[1, 0], [1, 0], [1, 0], [9, 4], [9, 4], [16, 4, 2.5, 4]]},
              "legend": {"title": "MMMM"}
            },
            "color": {
              "datum": "Forward-fitting", "type": "nominal",
              "scale": {"domain": ["Forward-fitting", "Parametric fitting", "true", "Stacked PDF", "Medians of PDF", "ML"],
                        "range": ["black", "blue", "#ffc966", "#bf00bf", "#6b8e23", "red"]},
              "legend": {"title": "MMMM"}
            },
            "strokeWidth": {
              "datum": "Forward-fitting", "type": "nominal",
              "scale": {"type": "ordinal", "domain": ["Forward-fitting", "Parametric fitting", "true", "Stacked PDF", "Medians of PDF", "ML"],
                        "range": [4, 2.8, 20, 2.5, 2.5, 2.5]},
              "legend": {"title": "MMMM"}
            }
          }
        },
        {
          "data": {"name": "err"},
          "mark": {"type": "errorbar", "color": "black", "ticks": {"size": 12, "thickness": 2.2}, "rule": {"strokeWidth": 2.5}},
          "encoding": {
            "x": {"field": "c", "type": "quantitative", "scale": {"domain": [1.1285, 2.7015], "nice": false, "zero": false}, "axis": null},
            "y": {"field": "lo", "type": "quantitative", "scale": {"domain": [0, 2.962], "nice": false, "zero": false}, "axis": null},
            "y2": {"field": "hi"}
          }
        },
        {
          "data": {"name": "err"},
          "mark": {"type": "point", "filled": true, "color": "black", "size": 55, "opacity": 1},
          "encoding": {
            "x": {"field": "c", "type": "quantitative", "scale": {"domain": [1.1285, 2.7015], "nice": false, "zero": false}, "axis": null},
            "y": {"field": "v", "type": "quantitative", "scale": {"domain": [0, 2.962], "nice": false, "zero": false}, "axis": null}
          }
        }
      ]
    },
    {
      "columns": 5,
      "spacing": 12,
      "bounds": "flush",
      "align": "each",
      "concat": [
        {"width": 35, "height": 257, "view": {"stroke": "transparent"}, "data": {"values": [{}]}, "mark": {"type": "point", "opacity": 0}},
        {
          "width": 257, "height": 257,
          "layer": [
            {"data": {"name": "hist"}, "transform": [{"filter": "datum.p === 'p2'"}],
             "mark": {"type": "line", "interpolate": "step-after", "color": "black", "strokeWidth": 1.8},
             "encoding": {
               "x": {"field": "x", "type": "quantitative", "scale": {"domain": [0, 1.13], "nice": false, "zero": false}, "axis": {"values": [0.25, 0.5, 0.75, 1], "labels": false, "title": null}},
               "y": {"field": "h", "type": "quantitative", "scale": {"domain": [0, 110], "nice": false, "zero": false}, "axis": null},
               "order": {"value": null}}},
            {"data": {"name": "quant"}, "transform": [{"filter": "datum.p === 'p2'"}],
             "mark": {"type": "rule", "color": "black", "strokeWidth": 2, "strokeDash": [8, 5]},
             "encoding": {"x": {"field": "v", "type": "quantitative", "scale": {"domain": [0, 1.13], "nice": false, "zero": false}, "axis": {"values": [0.25, 0.5, 0.75, 1], "labels": false, "title": null}}}},
            {"data": {"values": [{}]},
             "mark": {"type": "text", "text": "p₂ = 0.31", "align": "right", "baseline": "alphabetic", "dy": -9, "font": "DejaVu Sans", "fontSize": 20, "color": "black"},
             "encoding": {"x": {"datum": 0.696, "type": "quantitative", "scale": {"domain": [0, 1.13], "nice": false, "zero": false}, "axis": {"values": [0.25, 0.5, 0.75, 1], "labels": false, "title": null}},
                          "y": {"datum": 110, "type": "quantitative", "scale": {"domain": [0, 110], "nice": false, "zero": false}, "axis": null}}},
            {"data": {"values": [{}]},
             "mark": {"type": "text", "text": "+0.21", "align": "left", "baseline": "alphabetic", "dx": 1, "dy": -20, "font": "DejaVu Sans", "fontSize": 14, "color": "black"},
             "encoding": {"x": {"datum": 0.696, "type": "quantitative", "scale": {"domain": [0, 1.13], "nice": false, "zero": false}, "axis": {"values": [0.25, 0.5, 0.75, 1], "labels": false, "title": null}},
                          "y": {"datum": 110, "type": "quantitative", "scale": {"domain": [0, 110], "nice": false, "zero": false}, "axis": null}}},
            {"data": {"values": [{}]},
             "mark": {"type": "text", "text": "−0.16", "align": "left", "baseline": "alphabetic", "dx": 1, "dy": -5, "font": "DejaVu Sans", "fontSize": 14, "color": "black"},
             "encoding": {"x": {"datum": 0.696, "type": "quantitative", "scale": {"domain": [0, 1.13], "nice": false, "zero": false}, "axis": {"values": [0.25, 0.5, 0.75, 1], "labels": false, "title": null}},
                          "y": {"datum": 110, "type": "quantitative", "scale": {"domain": [0, 110], "nice": false, "zero": false}, "axis": null}}}
          ]
        },
        {"width": 257, "height": 257, "view": {"stroke": "transparent"}, "data": {"values": [{}]}, "mark": {"type": "point", "opacity": 0}},
        {"width": 257, "height": 257, "view": {"stroke": "transparent"}, "data": {"values": [{}]}, "mark": {"type": "point", "opacity": 0}},
        {"width": 257, "height": 257, "view": {"stroke": "transparent"}, "data": {"values": [{}]}, "mark": {"type": "point", "opacity": 0}},
        {"width": 35, "height": 257, "view": {"stroke": "transparent"}, "data": {"values": [{}]}, "mark": {"type": "point", "opacity": 0}},
        {
          "width": 257, "height": 257,
          "layer": [
            {"data": {"name": "ct"}, "transform": [{"filter": "datum.p === 'a'"}],
             "mark": {"type": "line", "filled": true, "interpolate": "cardinal-closed", "clip": true, "strokeWidth": 0},
             "encoding": {
               "x": {"field": "x", "type": "quantitative", "scale": {"domain": [0, 1.13], "nice": false, "zero": false}, "axis": {"values": [0.25, 0.5, 0.75, 1], "labels": false, "title": null}},
               "y": {"field": "y", "type": "quantitative", "scale": {"domain": [0.13, 3.27], "nice": false, "zero": false}, "axis": {"values": [0.8, 1.6, 2.4, 3.2], "format": ".1f", "title": "p₃"}},
               "fill": {"field": "l", "type": "ordinal", "scale": {"domain": [0, 1, 2, 3, 4], "range": ["#efefef", "#f2f2f2", "#b6b6b6", "#4f4f4f", "#1a1a1a"]}, "legend": null},
               "detail": {"field": "l", "type": "ordinal"},
               "order": {"value": null}}},
            {"data": {"name": "ct"}, "transform": [{"filter": "datum.p === 'a' && datum.l > 0"}],
             "mark": {"type": "line", "interpolate": "cardinal-closed", "clip": true, "color": "black", "strokeWidth": 2.2},
             "encoding": {
               "x": {"field": "x", "type": "quantitative", "scale": {"domain": [0, 1.13], "nice": false, "zero": false}, "axis": {"values": [0.25, 0.5, 0.75, 1], "labels": false, "title": null}},
               "y": {"field": "y", "type": "quantitative", "scale": {"domain": [0.13, 3.27], "nice": false, "zero": false}, "axis": {"values": [0.8, 1.6, 2.4, 3.2], "format": ".1f", "title": "p₃"}},
               "detail": {"field": "l", "type": "ordinal"},
               "order": {"value": null}}}
          ]
        },
        {
          "width": 257, "height": 257,
          "layer": [
            {"data": {"name": "hist"}, "transform": [{"filter": "datum.p === 'p3'"}],
             "mark": {"type": "line", "interpolate": "step-after", "color": "black", "strokeWidth": 1.8},
             "encoding": {
               "x": {"field": "x", "type": "quantitative", "scale": {"domain": [0.13, 3.27], "nice": false, "zero": false}, "axis": {"values": [0.8, 1.6, 2.4, 3.2], "labels": false, "title": null}},
               "y": {"field": "h", "type": "quantitative", "scale": {"domain": [0, 110], "nice": false, "zero": false}, "axis": null},
               "order": {"value": null}}},
            {"data": {"name": "quant"}, "transform": [{"filter": "datum.p === 'p3'"}],
             "mark": {"type": "rule", "color": "black", "strokeWidth": 2, "strokeDash": [8, 5]},
             "encoding": {"x": {"field": "v", "type": "quantitative", "scale": {"domain": [0.13, 3.27], "nice": false, "zero": false}, "axis": {"values": [0.8, 1.6, 2.4, 3.2], "labels": false, "title": null}}}},
            {"data": {"values": [{}]},
             "mark": {"type": "text", "text": "p₃ = 1.61", "align": "right", "baseline": "alphabetic", "dy": -9, "font": "DejaVu Sans", "fontSize": 20, "color": "black"},
             "encoding": {"x": {"datum": 1.986, "type": "quantitative", "scale": {"domain": [0.13, 3.27], "nice": false, "zero": false}, "axis": {"values": [0.8, 1.6, 2.4, 3.2], "labels": false, "title": null}},
                          "y": {"datum": 110, "type": "quantitative", "scale": {"domain": [0, 110], "nice": false, "zero": false}, "axis": null}}},
            {"data": {"values": [{}]},
             "mark": {"type": "text", "text": "+0.50", "align": "left", "baseline": "alphabetic", "dx": 1, "dy": -20, "font": "DejaVu Sans", "fontSize": 14, "color": "black"},
             "encoding": {"x": {"datum": 1.986, "type": "quantitative", "scale": {"domain": [0.13, 3.27], "nice": false, "zero": false}, "axis": {"values": [0.8, 1.6, 2.4, 3.2], "labels": false, "title": null}},
                          "y": {"datum": 110, "type": "quantitative", "scale": {"domain": [0, 110], "nice": false, "zero": false}, "axis": null}}},
            {"data": {"values": [{}]},
             "mark": {"type": "text", "text": "−0.48", "align": "left", "baseline": "alphabetic", "dx": 1, "dy": -5, "font": "DejaVu Sans", "fontSize": 14, "color": "black"},
             "encoding": {"x": {"datum": 1.986, "type": "quantitative", "scale": {"domain": [0.13, 3.27], "nice": false, "zero": false}, "axis": {"values": [0.8, 1.6, 2.4, 3.2], "labels": false, "title": null}},
                          "y": {"datum": 110, "type": "quantitative", "scale": {"domain": [0, 110], "nice": false, "zero": false}, "axis": null}}}
          ]
        },
        {"width": 257, "height": 257, "view": {"stroke": "transparent"}, "data": {"values": [{}]}, "mark": {"type": "point", "opacity": 0}},
        {"width": 257, "height": 257, "view": {"stroke": "transparent"}, "data": {"values": [{}]}, "mark": {"type": "point", "opacity": 0}},
        {"width": 35, "height": 257, "view": {"stroke": "transparent"}, "data": {"values": [{}]}, "mark": {"type": "point", "opacity": 0}},
        {
          "width": 257, "height": 257,
          "layer": [
            {"data": {"name": "ct"}, "transform": [{"filter": "datum.p === 'b'"}],
             "mark": {"type": "line", "filled": true, "interpolate": "cardinal-closed", "clip": true, "strokeWidth": 0},
             "encoding": {
               "x": {"field": "x", "type": "quantitative", "scale": {"domain": [0, 1.13], "nice": false, "zero": false}, "axis": {"values": [0.25, 0.5, 0.75, 1], "labels": false, "title": null}},
               "y": {"field": "y", "type": "quantitative", "scale": {"domain": [0.23, 4.26], "nice": false, "zero": false}, "axis": {"values": [1, 2, 3, 4], "format": "d", "title": "p₄"}},
               "fill": {"field": "l", "type": "ordinal", "scale": {"domain": [0, 1, 2, 3, 4], "range": ["#efefef", "#f2f2f2", "#b6b6b6", "#4f4f4f", "#1a1a1a"]}, "legend": null},
               "detail": {"field": "l", "type": "ordinal"},
               "order": {"value": null}}},
            {"data": {"name": "ct"}, "transform": [{"filter": "datum.p === 'b' && datum.l > 0"}],
             "mark": {"type": "line", "interpolate": "cardinal-closed", "clip": true, "color": "black", "strokeWidth": 2.2},
             "encoding": {
               "x": {"field": "x", "type": "quantitative", "scale": {"domain": [0, 1.13], "nice": false, "zero": false}, "axis": {"values": [0.25, 0.5, 0.75, 1], "labels": false, "title": null}},
               "y": {"field": "y", "type": "quantitative", "scale": {"domain": [0.23, 4.26], "nice": false, "zero": false}, "axis": {"values": [1, 2, 3, 4], "format": "d", "title": "p₄"}},
               "detail": {"field": "l", "type": "ordinal"},
               "order": {"value": null}}}
          ]
        },
        {
          "width": 257, "height": 257,
          "layer": [
            {"data": {"name": "ct"}, "transform": [{"filter": "datum.p === 'c'"}],
             "mark": {"type": "line", "filled": true, "interpolate": "cardinal-closed", "clip": true, "strokeWidth": 0},
             "encoding": {
               "x": {"field": "x", "type": "quantitative", "scale": {"domain": [0.13, 3.27], "nice": false, "zero": false}, "axis": {"values": [0.8, 1.6, 2.4, 3.2], "labels": false, "title": null}},
               "y": {"field": "y", "type": "quantitative", "scale": {"domain": [0.23, 4.26], "nice": false, "zero": false}, "axis": {"values": [1, 2, 3, 4], "labels": false, "title": null}},
               "fill": {"field": "l", "type": "ordinal", "scale": {"domain": [0, 1, 2, 3, 4], "range": ["#efefef", "#f2f2f2", "#b6b6b6", "#4f4f4f", "#1a1a1a"]}, "legend": null},
               "detail": {"field": "l", "type": "ordinal"},
               "order": {"value": null}}},
            {"data": {"name": "ct"}, "transform": [{"filter": "datum.p === 'c' && datum.l > 0"}],
             "mark": {"type": "line", "interpolate": "cardinal-closed", "clip": true, "color": "black", "strokeWidth": 2.2},
             "encoding": {
               "x": {"field": "x", "type": "quantitative", "scale": {"domain": [0.13, 3.27], "nice": false, "zero": false}, "axis": {"values": [0.8, 1.6, 2.4, 3.2], "labels": false, "title": null}},
               "y": {"field": "y", "type": "quantitative", "scale": {"domain": [0.23, 4.26], "nice": false, "zero": false}, "axis": {"values": [1, 2, 3, 4], "labels": false, "title": null}},
               "detail": {"field": "l", "type": "ordinal"},
               "order": {"value": null}}}
          ]
        },
        {
          "width": 257, "height": 257,
          "layer": [
            {"data": {"name": "hist"}, "transform": [{"filter": "datum.p === 'p4'"}],
             "mark": {"type": "line", "interpolate": "step-after", "color": "black", "strokeWidth": 1.8},
             "encoding": {
               "x": {"field": "x", "type": "quantitative", "scale": {"domain": [0.23, 4.26], "nice": false, "zero": false}, "axis": {"values": [1, 2, 3, 4], "labels": false, "title": null}},
               "y": {"field": "h", "type": "quantitative", "scale": {"domain": [0, 110], "nice": false, "zero": false}, "axis": null},
               "order": {"value": null}}},
            {"data": {"name": "quant"}, "transform": [{"filter": "datum.p === 'p4'"}],
             "mark": {"type": "rule", "color": "black", "strokeWidth": 2, "strokeDash": [8, 5]},
             "encoding": {"x": {"field": "v", "type": "quantitative", "scale": {"domain": [0.23, 4.26], "nice": false, "zero": false}, "axis": {"values": [1, 2, 3, 4], "labels": false, "title": null}}}},
            {"data": {"values": [{}]},
             "mark": {"type": "text", "text": "p₄ = 2.20", "align": "right", "baseline": "alphabetic", "dy": -9, "font": "DejaVu Sans", "fontSize": 20, "color": "black"},
             "encoding": {"x": {"datum": 2.628, "type": "quantitative", "scale": {"domain": [0.23, 4.26], "nice": false, "zero": false}, "axis": {"values": [1, 2, 3, 4], "labels": false, "title": null}},
                          "y": {"datum": 110, "type": "quantitative", "scale": {"domain": [0, 110], "nice": false, "zero": false}, "axis": null}}},
            {"data": {"values": [{}]},
             "mark": {"type": "text", "text": "+0.58", "align": "left", "baseline": "alphabetic", "dx": 1, "dy": -20, "font": "DejaVu Sans", "fontSize": 14, "color": "black"},
             "encoding": {"x": {"datum": 2.628, "type": "quantitative", "scale": {"domain": [0.23, 4.26], "nice": false, "zero": false}, "axis": {"values": [1, 2, 3, 4], "labels": false, "title": null}},
                          "y": {"datum": 110, "type": "quantitative", "scale": {"domain": [0, 110], "nice": false, "zero": false}, "axis": null}}},
            {"data": {"values": [{}]},
             "mark": {"type": "text", "text": "−0.60", "align": "left", "baseline": "alphabetic", "dx": 1, "dy": -5, "font": "DejaVu Sans", "fontSize": 14, "color": "black"},
             "encoding": {"x": {"datum": 2.628, "type": "quantitative", "scale": {"domain": [0.23, 4.26], "nice": false, "zero": false}, "axis": {"values": [1, 2, 3, 4], "labels": false, "title": null}},
                          "y": {"datum": 110, "type": "quantitative", "scale": {"domain": [0, 110], "nice": false, "zero": false}, "axis": null}}}
          ]
        },
        {"width": 257, "height": 257, "view": {"stroke": "transparent"}, "data": {"values": [{}]}, "mark": {"type": "point", "opacity": 0}},
        {"width": 35, "height": 257, "view": {"stroke": "transparent"}, "data": {"values": [{}]}, "mark": {"type": "point", "opacity": 0}},
        {
          "width": 257, "height": 257,
          "layer": [
            {"data": {"name": "ct"}, "transform": [{"filter": "datum.p === 'd'"}],
             "mark": {"type": "line", "filled": true, "interpolate": "cardinal-closed", "clip": true, "strokeWidth": 0},
             "encoding": {
               "x": {"field": "x", "type": "quantitative", "scale": {"domain": [0, 1.13], "nice": false, "zero": false}, "axis": {"values": [0.25, 0.5, 0.75, 1], "format": ".2f", "title": "p₂"}},
               "y": {"field": "y", "type": "quantitative", "scale": {"domain": [0, 2.52], "nice": false, "zero": false}, "axis": {"values": [0.6, 1.2, 1.8, 2.4], "format": ".1f", "title": "p₅"}},
               "fill": {"field": "l", "type": "ordinal", "scale": {"domain": [0, 1, 2, 3, 4], "range": ["#efefef", "#f2f2f2", "#b6b6b6", "#4f4f4f", "#1a1a1a"]}, "legend": null},
               "detail": {"field": "l", "type": "ordinal"},
               "order": {"value": null}}},
            {"data": {"name": "ct"}, "transform": [{"filter": "datum.p === 'd' && datum.l > 0"}],
             "mark": {"type": "line", "interpolate": "cardinal-closed", "clip": true, "color": "black", "strokeWidth": 2.2},
             "encoding": {
               "x": {"field": "x", "type": "quantitative", "scale": {"domain": [0, 1.13], "nice": false, "zero": false}, "axis": {"values": [0.25, 0.5, 0.75, 1], "format": ".2f", "title": "p₂"}},
               "y": {"field": "y", "type": "quantitative", "scale": {"domain": [0, 2.52], "nice": false, "zero": false}, "axis": {"values": [0.6, 1.2, 1.8, 2.4], "format": ".1f", "title": "p₅"}},
               "detail": {"field": "l", "type": "ordinal"},
               "order": {"value": null}}}
          ]
        },
        {
          "width": 257, "height": 257,
          "layer": [
            {"data": {"name": "ct"}, "transform": [{"filter": "datum.p === 'e'"}],
             "mark": {"type": "line", "filled": true, "interpolate": "cardinal-closed", "clip": true, "strokeWidth": 0},
             "encoding": {
               "x": {"field": "x", "type": "quantitative", "scale": {"domain": [0.13, 3.27], "nice": false, "zero": false}, "axis": {"values": [0.8, 1.6, 2.4, 3.2], "format": ".1f", "title": "p₃"}},
               "y": {"field": "y", "type": "quantitative", "scale": {"domain": [0, 2.52], "nice": false, "zero": false}, "axis": {"values": [0.6, 1.2, 1.8, 2.4], "labels": false, "title": null}},
               "fill": {"field": "l", "type": "ordinal", "scale": {"domain": [0, 1, 2, 3, 4], "range": ["#efefef", "#f2f2f2", "#b6b6b6", "#4f4f4f", "#1a1a1a"]}, "legend": null},
               "detail": {"field": "l", "type": "ordinal"},
               "order": {"value": null}}},
            {"data": {"name": "ct"}, "transform": [{"filter": "datum.p === 'e' && datum.l > 0"}],
             "mark": {"type": "line", "interpolate": "cardinal-closed", "clip": true, "color": "black", "strokeWidth": 2.2},
             "encoding": {
               "x": {"field": "x", "type": "quantitative", "scale": {"domain": [0.13, 3.27], "nice": false, "zero": false}, "axis": {"values": [0.8, 1.6, 2.4, 3.2], "format": ".1f", "title": "p₃"}},
               "y": {"field": "y", "type": "quantitative", "scale": {"domain": [0, 2.52], "nice": false, "zero": false}, "axis": {"values": [0.6, 1.2, 1.8, 2.4], "labels": false, "title": null}},
               "detail": {"field": "l", "type": "ordinal"},
               "order": {"value": null}}}
          ]
        },
        {
          "width": 257, "height": 257,
          "layer": [
            {"data": {"name": "ct"}, "transform": [{"filter": "datum.p === 'f'"}],
             "mark": {"type": "line", "filled": true, "interpolate": "cardinal-closed", "clip": true, "strokeWidth": 0},
             "encoding": {
               "x": {"field": "x", "type": "quantitative", "scale": {"domain": [0.23, 4.26], "nice": false, "zero": false}, "axis": {"values": [1, 2, 3, 4], "format": "d", "title": "p₄"}},
               "y": {"field": "y", "type": "quantitative", "scale": {"domain": [0, 2.52], "nice": false, "zero": false}, "axis": {"values": [0.6, 1.2, 1.8, 2.4], "labels": false, "title": null}},
               "fill": {"field": "l", "type": "ordinal", "scale": {"domain": [0, 1, 2, 3, 4], "range": ["#efefef", "#f2f2f2", "#b6b6b6", "#4f4f4f", "#1a1a1a"]}, "legend": null},
               "detail": {"field": "l", "type": "ordinal"},
               "order": {"value": null}}},
            {"data": {"name": "ct"}, "transform": [{"filter": "datum.p === 'f' && datum.l > 0"}],
             "mark": {"type": "line", "interpolate": "cardinal-closed", "clip": true, "color": "black", "strokeWidth": 2.2},
             "encoding": {
               "x": {"field": "x", "type": "quantitative", "scale": {"domain": [0.23, 4.26], "nice": false, "zero": false}, "axis": {"values": [1, 2, 3, 4], "format": "d", "title": "p₄"}},
               "y": {"field": "y", "type": "quantitative", "scale": {"domain": [0, 2.52], "nice": false, "zero": false}, "axis": {"values": [0.6, 1.2, 1.8, 2.4], "labels": false, "title": null}},
               "detail": {"field": "l", "type": "ordinal"},
               "order": {"value": null}}}
          ]
        },
        {
          "width": 257, "height": 257,
          "layer": [
            {"data": {"name": "hist"}, "transform": [{"filter": "datum.p === 'p5'"}],
             "mark": {"type": "line", "interpolate": "step-after", "color": "black", "strokeWidth": 1.8},
             "encoding": {
               "x": {"field": "x", "type": "quantitative", "scale": {"domain": [0, 2.52], "nice": false, "zero": false}, "axis": {"values": [0.6, 1.2, 1.8, 2.4], "format": ".1f", "title": "p₅"}},
               "y": {"field": "h", "type": "quantitative", "scale": {"domain": [0, 110], "nice": false, "zero": false}, "axis": null},
               "order": {"value": null}}},
            {"data": {"name": "quant"}, "transform": [{"filter": "datum.p === 'p5'"}],
             "mark": {"type": "rule", "color": "black", "strokeWidth": 2, "strokeDash": [8, 5]},
             "encoding": {"x": {"field": "v", "type": "quantitative", "scale": {"domain": [0, 2.52], "nice": false, "zero": false}, "axis": {"values": [0.6, 1.2, 1.8, 2.4], "format": ".1f", "title": "p₅"}}}},
            {"data": {"values": [{}]},
             "mark": {"type": "text", "text": "p₅ = 0.82", "align": "right", "baseline": "alphabetic", "dy": -9, "font": "DejaVu Sans", "fontSize": 20, "color": "black"},
             "encoding": {"x": {"datum": 1.495, "type": "quantitative", "scale": {"domain": [0, 2.52], "nice": false, "zero": false}, "axis": {"values": [0.6, 1.2, 1.8, 2.4], "format": ".1f", "title": "p₅"}},
                          "y": {"datum": 110, "type": "quantitative", "scale": {"domain": [0, 110], "nice": false, "zero": false}, "axis": null}}},
            {"data": {"values": [{}]},
             "mark": {"type": "text", "text": "+0.42", "align": "left", "baseline": "alphabetic", "dx": 1, "dy": -20, "font": "DejaVu Sans", "fontSize": 14, "color": "black"},
             "encoding": {"x": {"datum": 1.495, "type": "quantitative", "scale": {"domain": [0, 2.52], "nice": false, "zero": false}, "axis": {"values": [0.6, 1.2, 1.8, 2.4], "format": ".1f", "title": "p₅"}},
                          "y": {"datum": 110, "type": "quantitative", "scale": {"domain": [0, 110], "nice": false, "zero": false}, "axis": null}}},
            {"data": {"values": [{}]},
             "mark": {"type": "text", "text": "−0.35", "align": "left", "baseline": "alphabetic", "dx": 1, "dy": -5, "font": "DejaVu Sans", "fontSize": 14, "color": "black"},
             "encoding": {"x": {"datum": 1.495, "type": "quantitative", "scale": {"domain": [0, 2.52], "nice": false, "zero": false}, "axis": {"values": [0.6, 1.2, 1.8, 2.4], "format": ".1f", "title": "p₅"}},
                          "y": {"datum": 110, "type": "quantitative", "scale": {"domain": [0, 110], "nice": false, "zero": false}, "axis": null}}}
          ]
        }
      ]
    }
  ]
}
